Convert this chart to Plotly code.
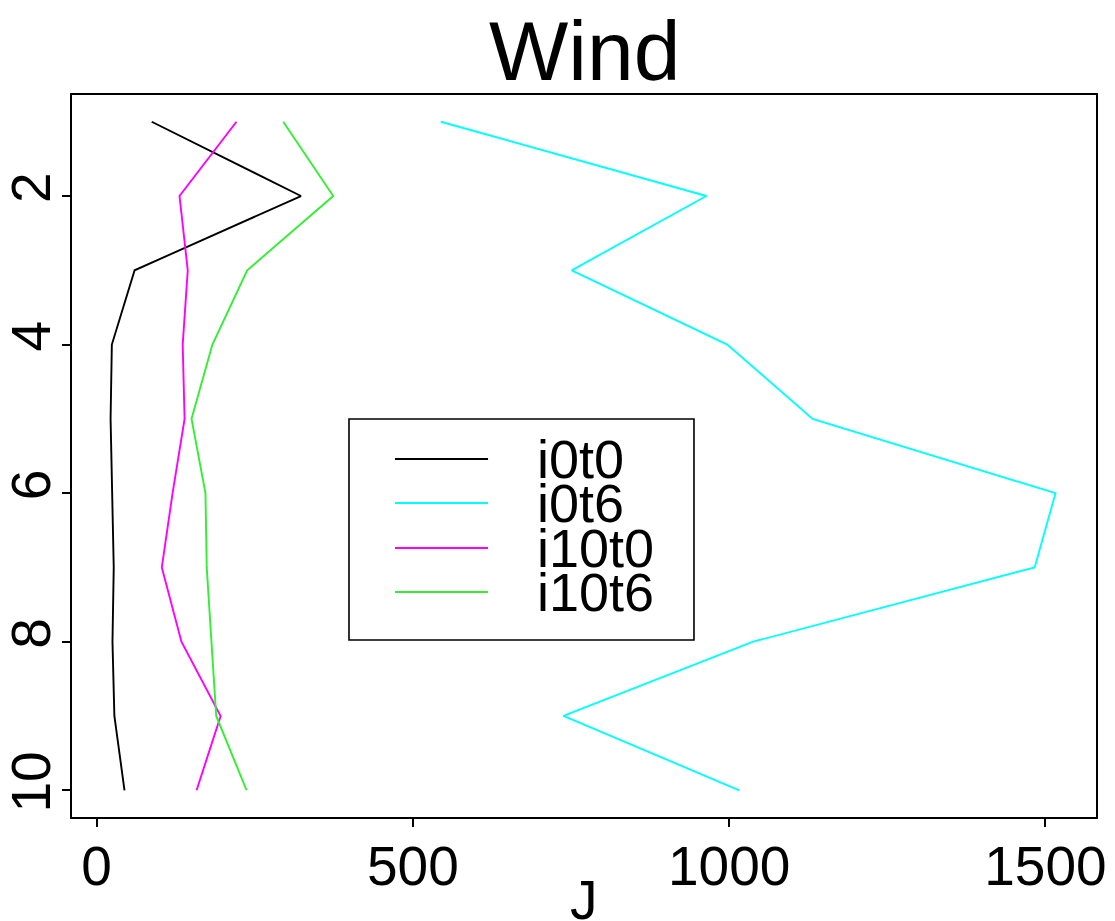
import plotly.graph_objects as go

levels = [1, 2, 3, 4, 5, 6, 7, 8, 9, 10]
series_names = ["i0t0", "i0t6", "i10t0", "i10t6"]
i0t0 = [87, 323, 60, 24, 22, 25, 27, 25, 28, 44]
i0t6 = [544, 964, 751, 997, 1132, 1516, 1483, 1038, 738, 1016]
i10t0 = [221, 131, 144, 136, 139, 120, 103, 134, 196, 158]
i10t6 = [295, 374, 238, 183, 150, 172, 174, 181, 189, 237]
colors = ["#000000", "#00FFFF", "#FF00FF", "#33EE33"]
x_ticks = [0, 500, 1000, 1500]
y_ticks = [2, 4, 6, 8, 10]

FONT = "Liberation Sans, Arial, sans-serif"
fig = go.Figure()
for name, vals, col in zip(series_names, [i0t0, i0t6, i10t0, i10t6], colors):
    fig.add_trace(go.Scatter(x=vals, y=levels, mode="lines", name=name,
                             line=dict(color=col, width=1.9), showlegend=False))

fig.update_layout(
    width=1115, height=921,
    margin=dict(l=72, r=19, t=95, b=104),
    paper_bgcolor="white", plot_bgcolor="white",
    font=dict(family=FONT, color="black"),
    showlegend=False,
)
fig.update_xaxes(range=[-39, 1580], tickvals=x_ticks, ticktext=[str(v) for v in x_ticks],
                 automargin=False, ticklabelstandoff=-8,
                 showgrid=False, zeroline=False, showline=True, mirror=True,
                 linecolor="black", linewidth=1.6, ticks="outside", ticklen=8,
                 tickwidth=1.6, tickcolor="black", tickfont=dict(size=55, family=FONT))
fig.update_yaxes(range=[10.36, 0.64], tickvals=y_ticks, ticktext=[str(v) for v in y_ticks],
                 automargin=False, ticklabelstandoff=-10,
                 showgrid=False, zeroline=False, showline=True, mirror=True,
                 linecolor="black", linewidth=1.6, ticks="outside", ticklen=8,
                 tickwidth=1.6, tickcolor="black", tickangle=-90,
                 tickfont=dict(size=55, family=FONT))

# Title and x label
fig.add_annotation(text="Wind", xref="paper", yref="paper", x=0.5, y=1.0,
                   yshift=95 - 2, xanchor="center", yanchor="top", showarrow=False,
                   font=dict(size=84, family=FONT))
fig.add_annotation(text="J", xref="paper", yref="paper", x=0.5, y=0,
                   yshift=-50, xanchor="center", yanchor="top", showarrow=False,
                   font=dict(size=55, family=FONT))

# Legend box
fig.add_shape(type="rect", xref="paper", yref="paper", x0=0.2705, x1=0.6074,
              y0=0.2452, y1=0.5512, line=dict(color="black", width=1.6),
              fillcolor="white", layer="above")
leg_y = [0.4958, 0.4349, 0.3726, 0.3116]
for name, col, yy in zip(series_names, colors, leg_y):
    fig.add_shape(type="line", xref="paper", yref="paper", x0=0.3154, x1=0.4063,
                  y0=yy, y1=yy, line=dict(color=col, width=1.9), layer="above")
    fig.add_annotation(text=name, xref="paper", yref="paper", x=0.4521, y=yy,
                       xanchor="left", yanchor="middle", showarrow=False,
                       font=dict(size=54, family=FONT))

fig.write_html("out.html")
